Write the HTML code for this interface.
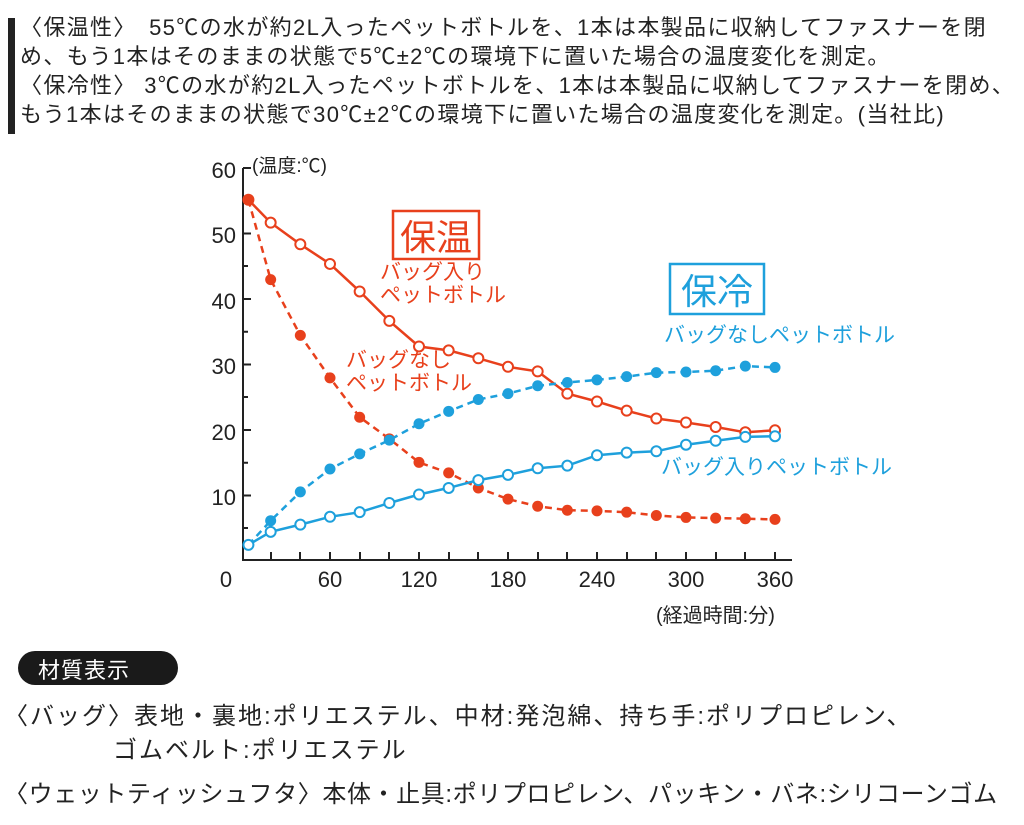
<!DOCTYPE html>
<html><head><meta charset="utf-8"><style>
body{margin:0;background:#fff;width:1024px;height:825px;overflow:hidden;font-family:"Liberation Sans","Noto Sans CJK JP",sans-serif;color:#222}
.t{position:absolute;white-space:nowrap}
</style></head><body>
<div style="position:absolute;left:8px;top:18px;width:7px;height:116px;background:#222"></div>
<div class="t" style="left:20px;top:13px;font-size:22px;line-height:29px;letter-spacing:1.35px">
〈保温性〉　55℃の水が約2L入ったペットボトルを、1本は本製品に収納してファスナーを閉<br>
め、もう1本はそのままの状態で5℃±2℃の環境下に置いた場合の温度変化を測定。<br>
〈保冷性〉 3℃の水が約2L入ったペットボトルを、1本は本製品に収納してファスナーを閉め、<br>
もう1本はそのままの状態で30℃±2℃の環境下に置いた場合の温度変化を測定。(当社比)</div>

<svg width="1024" height="825" style="position:absolute;left:0;top:0" font-family="Liberation Sans, Noto Sans CJK JP, sans-serif">
<g stroke="#222" stroke-width="2" fill="none">
<path d="M243 168 V560 H792"/>
<path d="M243 168 h8 M243 233.5 h8 M243 299 h8 M243 364.5 h8 M243 430 h8 M243 495.5 h8 M243 200.7 h5 M243 266 h5 M243 331.8 h5 M243 397 h5 M243 462.8 h5 M243 528 h5"/>
<path d="M271 560 v-8 M300 560 v-8 M330 560 v-8 M360 560 v-8 M389 560 v-8 M419 560 v-8 M449 560 v-8 M478 560 v-8 M508 560 v-8 M538 560 v-8 M567 560 v-8 M597 560 v-8 M627 560 v-8 M656 560 v-8 M686 560 v-8 M716 560 v-8 M745 560 v-8 M775 560 v-8"/>
</g>
<g font-size="22" fill="#222" text-anchor="end">
<text x="236" y="178">60</text><text x="236" y="243">50</text><text x="236" y="309">40</text><text x="236" y="374">30</text><text x="236" y="440">20</text><text x="236" y="505">10</text>
</g>
<g font-size="22" fill="#222" text-anchor="middle">
<text x="226" y="587">0</text><text x="330" y="587">60</text><text x="419" y="587">120</text><text x="508" y="587">180</text><text x="597" y="587">240</text><text x="686" y="587">300</text><text x="775" y="587">360</text>
</g>
<text x="252" y="172" font-size="19" fill="#222">(温度:℃)</text>
<text x="656" y="622" font-size="20" fill="#222">(経過時間:分)</text>
<rect x="393" y="211" width="86" height="48" fill="none" stroke="#e8401c" stroke-width="2.5"/>
<text x="436" y="250" font-size="36" fill="#e8401c" text-anchor="middle">保温</text>
<text x="380" y="279" font-size="21" fill="#e8401c">バッグ入り</text>
<text x="380" y="302" font-size="21" fill="#e8401c">ペットボトル</text>
<text x="346" y="367" font-size="21" fill="#e8401c">バッグなし</text>
<text x="346" y="390" font-size="21" fill="#e8401c">ペットボトル</text>
<rect x="670" y="264" width="94" height="50" fill="none" stroke="#1ea0dc" stroke-width="2.5"/>
<text x="717" y="304" font-size="36" fill="#1ea0dc" text-anchor="middle">保冷</text>
<text x="664" y="342" font-size="21" fill="#1ea0dc">バッグなしペットボトル</text>
<text x="661" y="474" font-size="21" fill="#1ea0dc">バッグ入りペットボトル</text>
<g id="series"></g>
</svg>

<div style="position:absolute;left:18px;top:651px;width:160px;height:34px;background:#1a1a1a;border-radius:17px"></div>
<div class="t" style="left:38px;top:653px;font-size:22px;color:#fff;letter-spacing:1px">材質表示</div>
<div class="t" style="left:4px;top:700px;font-size:24px;line-height:34px;letter-spacing:2px">〈バッグ〉表地・裏地:ポリエステル、中材:発泡綿、持ち手:ポリプロピレン、</div>
<div class="t" style="left:113px;top:734px;font-size:24px;line-height:34px;letter-spacing:2px">ゴムベルト:ポリエステル</div>
<div class="t" style="left:4px;top:778px;font-size:24px;line-height:34px;letter-spacing:0.6px">〈ウェットティッシュフタ〉本体・止具:ポリプロピレン、パッキン・バネ:シリコーンゴム</div>

<script>
const ts=[5,20,40,60,80,100,120,140,160,180,200,220,240,260,280,300,320,340,360];
const X=t=>241+t*89/60, Y=v=>560-6.55*v;
const S=[
 {c:"#e8401c",d:false,v:[55,51.5,48.2,45.2,41,36.5,32.6,32,30.8,29.5,28.8,25.4,24.2,22.8,21.6,21,20.3,19.5,19.8]},
 {c:"#e8401c",d:true,v:[55,42.8,34.3,27.8,21.8,18.5,14.9,13.3,11,9.3,8.2,7.6,7.5,7.3,6.8,6.5,6.4,6.3,6.2]},
 {c:"#1ea0dc",d:true,v:[2.3,6,10.4,13.9,16.2,18.3,20.8,22.7,24.5,25.4,26.6,27.1,27.5,28,28.6,28.7,28.9,29.6,29.4]},
 {c:"#1ea0dc",d:false,v:[2.3,4.3,5.4,6.6,7.3,8.7,10,11,12.2,13,14,14.4,16,16.4,16.6,17.6,18.2,18.8,18.9]}];
let h="";
for(const s of S){
 const pts=s.v.map((v,i)=>X(ts[i]).toFixed(1)+","+Y(v).toFixed(1)).join(" ");
 h+=`<polyline points="${pts}" fill="none" stroke="${s.c}" stroke-width="2.5" ${s.d?'stroke-dasharray="7,5"':''}/>`;
 s.v.forEach((v,i)=>{h+= s.d?`<circle cx="${X(ts[i])}" cy="${Y(v)}" r="5.5" fill="${s.c}"/>`:`<circle cx="${X(ts[i])}" cy="${Y(v)}" r="5" fill="#fff" stroke="${s.c}" stroke-width="2"/>`;});
}
document.getElementById("series").innerHTML=h;
</script>
</body></html>
